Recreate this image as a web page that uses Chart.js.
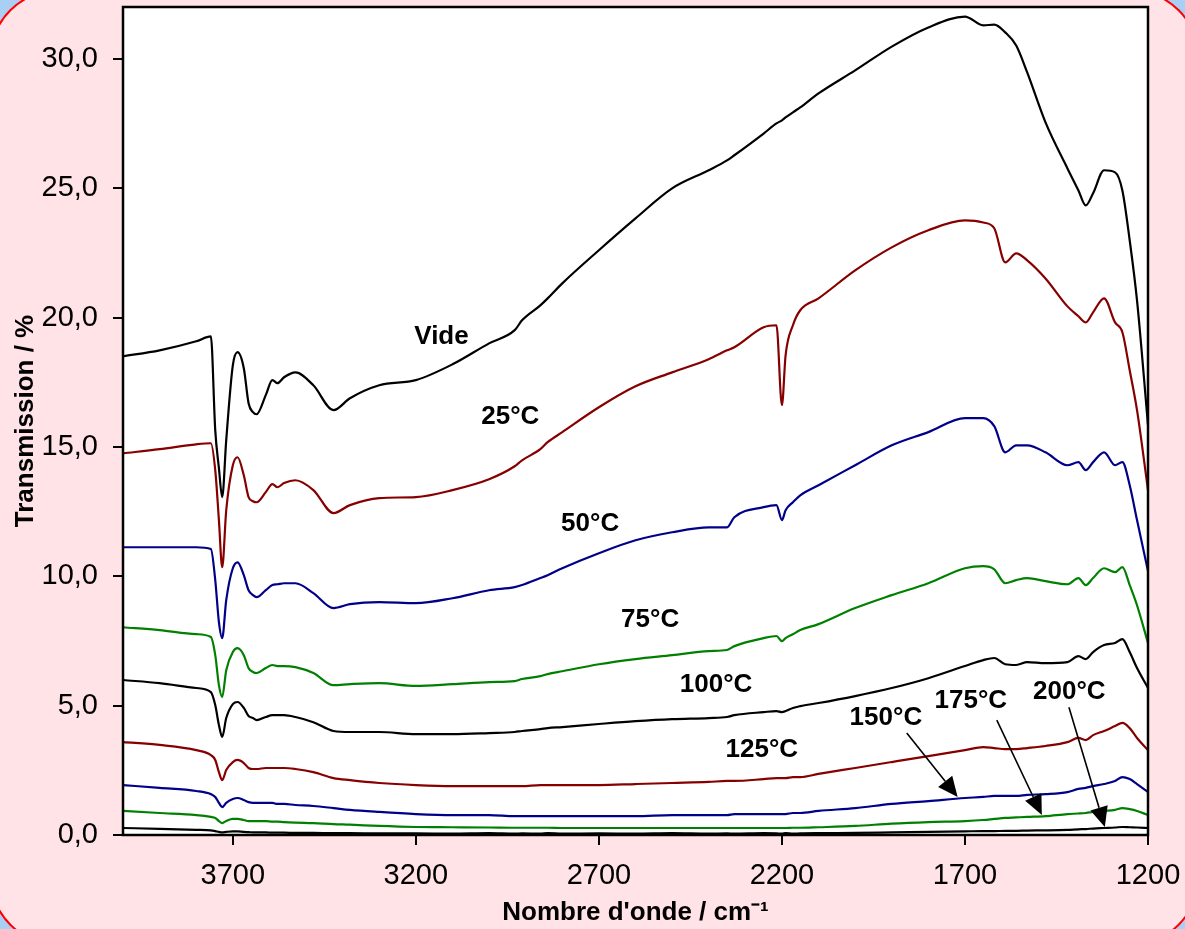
<!DOCTYPE html>
<html>
<head>
<meta charset="utf-8">
<script src="https://cdn.jsdelivr.net/npm/chart.js@4/dist/chart.umd.min.js"></script>
<style>
  html, body { margin: 0; padding: 0; }
  body { width: 1185px; height: 929px; overflow: hidden; background: #a9cff4; position: relative; }
  #card { position: absolute; left: -10px; top: -10px; right: -14px; bottom: -16px; background: #ffe3e6; border: 2px solid #f00; border-radius: 67px; }
  #myChart { position: absolute; left: 0; top: 0; }
</style>
</head>
<body>
<div id="card"></div>
<canvas id="myChart" width="1185" height="929"></canvas>
<script>
// wavenumber grid (cm-1), shared by all spectra
const wavenumbers = [4000, 3900, 3800, 3760, 3748, 3738, 3729, 3718, 3700, 3687, 3670, 3657, 3645, 3635, 3610, 3592,
  3578, 3560, 3529, 3480, 3425, 3380, 3300, 3200, 3100, 3000, 2930, 2910, 2860, 2840, 2800, 2700,
  2600, 2500, 2400, 2350, 2330, 2250, 2215, 2200, 2190, 2170, 2150, 2100, 2000, 1900, 1800, 1700,
  1650, 1620, 1590, 1560, 1530, 1480, 1420, 1390, 1370, 1350, 1320, 1290, 1270, 1250, 1230, 1200];

const vide = [18.50, 18.73, 19.08, 19.27, 15.64, 14.18, 13.06, 15.26, 18.15, 18.66, 18.04, 16.69, 16.34, 16.26, 17.00, 17.58,
  17.46, 17.69, 17.88, 17.38, 16.42, 16.88, 17.38, 17.58, 18.19, 19.00, 19.51, 19.89, 20.47, 20.74, 21.32, 22.60,
  23.83, 24.99, 25.69, 26.07, 26.27, 27.11, 27.50, 27.62, 27.73, 27.93, 28.12, 28.66, 29.55, 30.47, 31.21, 31.63,
  31.29, 31.32, 31.02, 30.51, 29.47, 27.54, 25.76, 24.91, 24.33, 24.80, 25.69, 25.61, 24.91, 22.98, 20.66, 15.84];

const t25 = [14.75, 14.91, 15.10, 15.14, 14.10, 12.17, 10.35, 12.55, 14.29, 14.60, 13.90, 13.06, 12.90, 12.86, 13.25, 13.56,
  13.44, 13.60, 13.71, 13.33, 12.44, 12.75, 13.02, 13.06, 13.33, 13.75, 14.25, 14.48, 14.91, 15.18, 15.57, 16.53,
  17.34, 17.88, 18.39, 18.73, 18.85, 19.62, 19.70, 16.61, 18.54, 19.70, 20.28, 20.74, 21.82, 22.71, 23.37, 23.75,
  23.67, 23.45, 22.13, 22.48, 22.21, 21.51, 20.43, 20.05, 19.81, 20.20, 20.74, 19.81, 19.43, 17.96, 16.42, 13.33];

const t50 = [11.12, 11.12, 11.12, 11.05, 9.85, 8.23, 7.61, 9.08, 10.31, 10.54, 10.04, 9.46, 9.27, 9.19, 9.46, 9.66,
  9.69, 9.73, 9.73, 9.35, 8.77, 8.92, 9.00, 8.96, 9.15, 9.46, 9.58, 9.66, 9.93, 10.04, 10.31, 10.89,
  11.39, 11.70, 11.89, 11.89, 12.28, 12.67, 12.75, 12.17, 12.55, 12.86, 13.13, 13.52, 14.29, 15.06, 15.57, 16.11,
  16.11, 15.80, 14.79, 15.06, 15.06, 14.79, 14.29, 14.41, 14.10, 14.41, 14.79, 14.29, 14.41, 13.52, 12.17, 10.20];

const t75 = [8.03, 7.92, 7.76, 7.65, 6.95, 5.79, 5.33, 6.37, 7.07, 7.22, 6.95, 6.45, 6.30, 6.26, 6.45, 6.57,
  6.53, 6.53, 6.49, 6.26, 5.79, 5.83, 5.87, 5.76, 5.83, 5.91, 5.95, 6.03, 6.14, 6.22, 6.33, 6.60,
  6.80, 6.95, 7.11, 7.15, 7.30, 7.61, 7.69, 7.49, 7.61, 7.76, 7.92, 8.15, 8.77, 9.27, 9.73, 10.31,
  10.39, 10.27, 9.73, 9.85, 9.93, 9.81, 9.69, 9.93, 9.66, 9.93, 10.31, 10.16, 10.35, 9.66, 8.88, 7.42];

const t100 = [5.99, 5.87, 5.68, 5.52, 5.02, 4.25, 3.79, 4.52, 5.06, 5.14, 4.91, 4.60, 4.52, 4.44, 4.56, 4.63,
  4.63, 4.63, 4.56, 4.36, 4.02, 3.98, 3.98, 3.90, 3.90, 3.94, 3.98, 4.02, 4.09, 4.13, 4.17, 4.29,
  4.40, 4.48, 4.52, 4.56, 4.63, 4.75, 4.79, 4.75, 4.79, 4.91, 4.98, 5.10, 5.37, 5.68, 6.06, 6.53,
  6.76, 6.84, 6.60, 6.57, 6.68, 6.64, 6.68, 6.91, 6.80, 7.07, 7.34, 7.42, 7.57, 7.07, 6.45, 5.68];

const t125 = [3.59, 3.48, 3.28, 3.09, 2.90, 2.43, 2.12, 2.51, 2.82, 2.90, 2.78, 2.59, 2.55, 2.55, 2.59, 2.59,
  2.59, 2.59, 2.55, 2.43, 2.20, 2.12, 2.01, 1.93, 1.89, 1.89, 1.89, 1.89, 1.93, 1.93, 1.93, 1.93,
  1.97, 2.01, 2.05, 2.09, 2.09, 2.16, 2.20, 2.20, 2.20, 2.24, 2.24, 2.36, 2.59, 2.82, 3.05, 3.28,
  3.40, 3.36, 3.32, 3.32, 3.36, 3.44, 3.59, 3.75, 3.67, 3.86, 4.02, 4.21, 4.33, 4.13, 3.75, 3.28];

const t150 = [1.93, 1.82, 1.70, 1.58, 1.47, 1.24, 1.08, 1.24, 1.39, 1.43, 1.35, 1.27, 1.24, 1.24, 1.24, 1.24,
  1.20, 1.20, 1.16, 1.12, 1.04, 0.97, 0.89, 0.81, 0.77, 0.77, 0.73, 0.73, 0.73, 0.73, 0.73, 0.73,
  0.73, 0.77, 0.77, 0.77, 0.81, 0.81, 0.81, 0.81, 0.81, 0.85, 0.85, 0.93, 1.04, 1.20, 1.31, 1.43,
  1.47, 1.51, 1.51, 1.51, 1.55, 1.58, 1.66, 1.78, 1.82, 1.89, 1.97, 2.09, 2.24, 2.16, 1.97, 1.66];

const t175 = [0.93, 0.85, 0.77, 0.70, 0.66, 0.54, 0.46, 0.54, 0.62, 0.62, 0.58, 0.54, 0.54, 0.54, 0.54, 0.52,
  0.52, 0.50, 0.48, 0.46, 0.42, 0.40, 0.35, 0.31, 0.30, 0.29, 0.28, 0.28, 0.28, 0.28, 0.27, 0.27,
  0.27, 0.27, 0.27, 0.27, 0.27, 0.27, 0.27, 0.27, 0.27, 0.28, 0.28, 0.30, 0.35, 0.44, 0.50, 0.54,
  0.58, 0.62, 0.66, 0.68, 0.70, 0.73, 0.81, 0.83, 0.85, 0.89, 0.93, 0.97, 1.04, 1.00, 0.93, 0.77];

const t200 = [0.27, 0.24, 0.20, 0.18, 0.15, 0.12, 0.10, 0.12, 0.14, 0.14, 0.12, 0.11, 0.10, 0.10, 0.10, 0.09,
  0.09, 0.09, 0.08, 0.08, 0.07, 0.07, 0.06, 0.06, 0.05, 0.07, 0.05, 0.06, 0.05, 0.07, 0.05, 0.06,
  0.05, 0.07, 0.05, 0.06, 0.05, 0.07, 0.06, 0.05, 0.07, 0.05, 0.06, 0.07, 0.08, 0.10, 0.12, 0.14,
  0.15, 0.15, 0.16, 0.16, 0.17, 0.18, 0.20, 0.22, 0.23, 0.25, 0.27, 0.29, 0.31, 0.30, 0.29, 0.27];

const seriesNames = ['Vide', '25°C', '50°C', '75°C', '100°C', '125°C', '150°C', '175°C', '200°C'];
const seriesValues = [vide, t25, t50, t75, t100, t125, t150, t175, t200];
const xTicks = [3700, 3200, 2700, 2200, 1700, 1200];
const yTicks = [0, 5, 10, 15, 20, 25, 30];

const colours = ['#000000', '#860000', '#000088', '#008000', '#000000', '#860000', '#000088', '#008000', '#000000'];
const font = '"Liberation Sans", Arial, sans-serif';

// curve names, placed in data units; the last three carry an arrow
const tags = [
  { text: 'Vide', x: 3130, y: 19.27 },
  { text: '25°C', x: 2942, y: 16.15 },
  { text: '50°C', x: 2724, y: 12.01 },
  { text: '75°C', x: 2560, y: 8.30 },
  { text: '100°C', x: 2380, y: 5.79 },
  { text: '125°C', x: 2255, y: 3.28 },
  { text: '150°C', x: 1916, y: 4.52, from: [1859, 3.94], to: [1720, 1.47] },
  { text: '175°C', x: 1684, y: 5.18, from: [1613, 4.44], to: [1490, 0.77] },
  { text: '200°C', x: 1415, y: 5.54, from: [1416, 4.94], to: [1318, 0.31] },
];

const decorations = {
  id: 'decorations',
  beforeDraw(chart) {
    const { ctx, chartArea: a } = chart;
    ctx.save();
    ctx.fillStyle = '#ffffff';
    ctx.fillRect(a.left, a.top, a.right - a.left, a.bottom - a.top);
    ctx.restore();
  },
  afterDatasetsDraw(chart) {
    const { ctx, chartArea: a, scales: { x, y } } = chart;
    ctx.save();
    ctx.strokeStyle = '#000';
    ctx.lineWidth = 2.5;
    ctx.strokeRect(a.left, a.top, a.right - a.left, a.bottom - a.top);

    ctx.font = 'bold 26px ' + font;
    ctx.fillStyle = '#000';
    ctx.textAlign = 'center';
    ctx.textBaseline = 'middle';
    tags.forEach(t => {
      ctx.fillText(t.text, x.getPixelForValue(t.x), y.getPixelForValue(t.y));
      if (!t.from) return;
      const x1 = x.getPixelForValue(t.from[0]), y1 = y.getPixelForValue(t.from[1]);
      const x2 = x.getPixelForValue(t.to[0]), y2 = y.getPixelForValue(t.to[1]);
      const ang = Math.atan2(y2 - y1, x2 - x1);
      const len = 20, half = 9;
      const bx = x2 - len * Math.cos(ang), by = y2 - len * Math.sin(ang);
      ctx.lineWidth = 1.6;
      ctx.beginPath();
      ctx.moveTo(x1, y1);
      ctx.lineTo(bx, by);
      ctx.stroke();
      ctx.beginPath();
      ctx.moveTo(x2, y2);
      ctx.lineTo(bx + half * Math.sin(ang), by - half * Math.cos(ang));
      ctx.lineTo(bx - half * Math.sin(ang), by + half * Math.cos(ang));
      ctx.closePath();
      ctx.fill();
    });
    ctx.restore();
  }
};

new Chart(document.getElementById('myChart'), {
  type: 'line',
  data: {
    datasets: seriesValues.map((vals, i) => ({
      label: seriesNames[i],
      data: wavenumbers.map((w, j) => ({ x: w, y: vals[j] })),
      borderColor: colours[i],
      backgroundColor: colours[i],
      borderWidth: 2.2,
      pointRadius: 0,
      fill: false,
      cubicInterpolationMode: 'monotone',
    })),
  },
  options: {
    responsive: false,
    animation: false,
    devicePixelRatio: 1,
    layout: { padding: { left: 0, top: 7, right: 37, bottom: 0 } },
    plugins: { legend: { display: false }, tooltip: { enabled: false } },
    scales: {
      x: {
        type: 'linear',
        reverse: true,
        min: 1200,
        max: 4000,
        afterBuildTicks: s => { s.ticks = xTicks.map(v => ({ value: v })); },
        afterFit: s => { s.height = 94; s.paddingLeft = 0; s.paddingRight = 0; },
        ticks: { color: '#000', font: { family: font, size: 29 }, padding: 14, maxRotation: 0, autoSkip: false, callback: v => String(v) },
        grid: { drawOnChartArea: false, drawTicks: true, tickLength: 10, color: '#000', lineWidth: 2 },
        border: { display: false },
        title: { display: true, text: "Nombre d'onde / cm⁻¹", color: '#000', font: { family: font, size: 26, weight: 'bold' }, padding: { top: 0, bottom: 1 } },
      },
      y: {
        min: 0,
        max: 32,
        afterBuildTicks: s => { s.ticks = yTicks.map(v => ({ value: v })); },
        afterFit: s => { s.width = 123; s.paddingTop = 0; s.paddingBottom = 0; },
        ticks: { color: '#000', font: { family: font, size: 29 }, padding: 15, callback: v => v.toFixed(1).replace('.', ',') },
        grid: { drawOnChartArea: false, drawTicks: true, tickLength: 10, color: '#000', lineWidth: 2 },
        border: { display: false },
        title: { display: true, text: 'Transmission / %', color: '#000', font: { family: font, size: 26, weight: 'bold' }, padding: { top: 10, bottom: 0 } },
      },
    },
  },
  plugins: [decorations],
});
</script>
</body>
</html>
